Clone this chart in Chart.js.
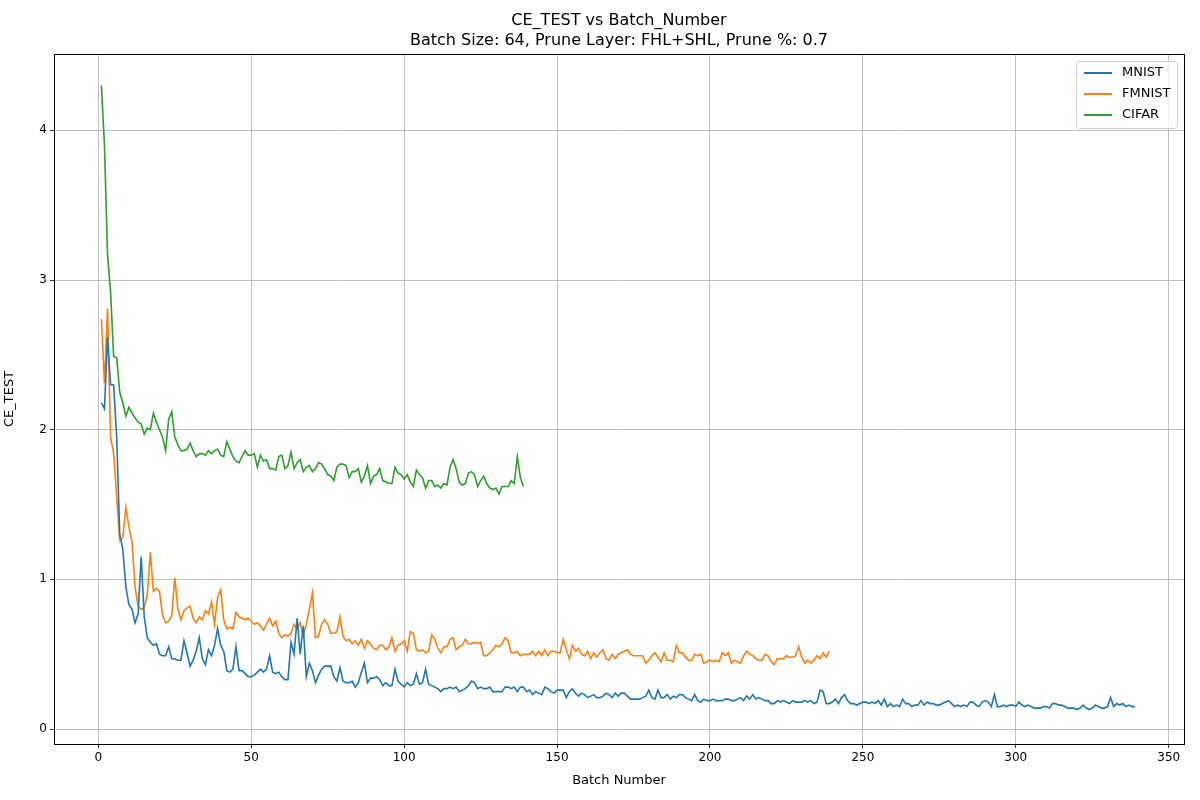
<!DOCTYPE html>
<html>
<head>
<meta charset="utf-8">
<script src="https://cdn.jsdelivr.net/npm/chart.js@4/dist/chart.umd.min.js"></script>
<style>
  body { margin: 0; background: #fff; }
  #wrap { width: 1200px; height: 800px; }
</style>
</head>
<body>
<div id="wrap"><canvas id="chart" width="1200" height="800"></canvas></div>
<script>
// Values, batch 1..N
const mnist = [2.18,2.14,2.62,2.30,2.30,1.95,1.30,1.20,0.95,0.83,0.80,0.71,0.77,1.15,0.75,0.61,0.58,0.56,0.57,0.50,
0.49,0.49,0.55,0.47,0.47,0.46,0.46,0.59,0.51,0.42,0.46,0.52,0.61,0.47,0.43,0.53,0.49,0.56,0.67,0.56,
0.52,0.39,0.38,0.40,0.55,0.39,0.39,0.37,0.35,0.35,0.36,0.38,0.40,0.38,0.40,0.49,0.38,0.37,0.38,0.35,
0.33,0.33,0.58,0.50,0.74,0.50,0.69,0.35,0.44,0.39,0.31,0.36,0.40,0.42,0.42,0.42,0.35,0.32,0.41,0.32,
0.31,0.31,0.32,0.28,0.31,0.38,0.44,0.31,0.34,0.34,0.35,0.33,0.29,0.31,0.29,0.29,0.40,0.32,0.30,0.28,
0.31,0.29,0.30,0.37,0.30,0.31,0.40,0.30,0.29,0.28,0.27,0.25,0.27,0.27,0.28,0.27,0.28,0.25,0.26,0.27,
0.29,0.32,0.31,0.27,0.28,0.27,0.27,0.28,0.25,0.25,0.25,0.25,0.28,0.28,0.27,0.28,0.25,0.28,0.28,0.25,
0.26,0.23,0.25,0.24,0.23,0.28,0.27,0.25,0.24,0.26,0.26,0.26,0.21,0.25,0.27,0.24,0.22,0.24,0.23,0.21,
0.22,0.23,0.21,0.21,0.22,0.24,0.23,0.21,0.24,0.22,0.24,0.24,0.22,0.20,0.20,0.20,0.20,0.21,0.22,0.26,
0.21,0.20,0.26,0.21,0.21,0.23,0.20,0.22,0.21,0.23,0.23,0.21,0.20,0.19,0.23,0.19,0.18,0.20,0.19,0.19,
0.20,0.19,0.19,0.19,0.20,0.20,0.19,0.19,0.20,0.21,0.19,0.22,0.20,0.23,0.20,0.21,0.20,0.19,0.19,0.17,
0.17,0.19,0.18,0.19,0.18,0.17,0.19,0.18,0.18,0.18,0.19,0.18,0.19,0.17,0.18,0.26,0.25,0.17,0.17,0.18,
0.20,0.17,0.21,0.23,0.19,0.17,0.17,0.16,0.17,0.18,0.18,0.17,0.18,0.17,0.19,0.16,0.20,0.15,0.17,0.15,
0.16,0.15,0.20,0.17,0.17,0.15,0.16,0.16,0.19,0.16,0.18,0.17,0.17,0.16,0.16,0.17,0.18,0.19,0.17,0.15,
0.16,0.15,0.16,0.15,0.18,0.18,0.16,0.15,0.18,0.19,0.18,0.15,0.23,0.15,0.15,0.16,0.15,0.16,0.16,0.15,
0.18,0.16,0.15,0.16,0.15,0.14,0.14,0.14,0.15,0.15,0.14,0.17,0.17,0.16,0.16,0.15,0.14,0.14,0.14,0.13,
0.14,0.16,0.14,0.13,0.14,0.16,0.15,0.14,0.14,0.15,0.21,0.15,0.17,0.16,0.17,0.15,0.16,0.15,0.15];

const fmnist = [2.74,2.31,2.81,1.95,1.84,1.55,1.26,1.28,1.48,1.35,1.25,0.95,0.82,0.80,0.81,0.90,1.18,0.92,0.94,0.92,
0.76,0.71,0.72,0.76,1.01,0.80,0.73,0.79,0.81,0.82,0.74,0.71,0.75,0.73,0.79,0.77,0.85,0.70,0.88,0.93,
0.73,0.67,0.68,0.67,0.78,0.75,0.74,0.73,0.74,0.72,0.70,0.71,0.69,0.66,0.70,0.74,0.69,0.72,0.64,0.61,
0.63,0.62,0.64,0.70,0.67,0.71,0.62,0.70,0.80,0.91,0.61,0.62,0.70,0.73,0.70,0.64,0.64,0.65,0.75,0.62,
0.59,0.60,0.57,0.59,0.56,0.60,0.54,0.59,0.57,0.54,0.53,0.56,0.56,0.53,0.55,0.61,0.52,0.56,0.57,0.59,
0.52,0.65,0.64,0.53,0.52,0.53,0.51,0.52,0.63,0.60,0.54,0.51,0.55,0.55,0.60,0.61,0.53,0.55,0.56,0.60,
0.57,0.57,0.58,0.57,0.58,0.49,0.49,0.51,0.53,0.56,0.55,0.57,0.61,0.59,0.51,0.51,0.52,0.49,0.50,0.50,
0.50,0.52,0.49,0.52,0.49,0.53,0.49,0.52,0.52,0.51,0.51,0.60,0.53,0.47,0.56,0.52,0.54,0.50,0.49,0.52,
0.47,0.51,0.48,0.51,0.53,0.47,0.46,0.50,0.47,0.50,0.51,0.52,0.53,0.50,0.49,0.49,0.49,0.49,0.44,0.46,
0.49,0.51,0.48,0.45,0.51,0.46,0.46,0.45,0.56,0.51,0.51,0.48,0.46,0.46,0.50,0.49,0.50,0.44,0.45,0.46,
0.45,0.46,0.45,0.51,0.49,0.51,0.44,0.46,0.45,0.44,0.49,0.52,0.50,0.49,0.47,0.46,0.46,0.50,0.49,0.45,
0.43,0.47,0.47,0.47,0.49,0.48,0.48,0.49,0.55,0.48,0.44,0.46,0.44,0.46,0.49,0.47,0.51,0.48,0.52];

const cifar = [4.30,3.90,3.17,2.92,2.49,2.48,2.25,2.18,2.09,2.15,2.11,2.08,2.05,2.04,1.97,2.01,2.00,2.11,2.05,2.00,
1.95,1.86,2.07,2.12,1.95,1.90,1.86,1.86,1.87,1.91,1.86,1.82,1.84,1.84,1.83,1.86,1.84,1.86,1.87,1.83,
1.82,1.92,1.87,1.82,1.79,1.78,1.82,1.86,1.83,1.83,1.84,1.75,1.83,1.79,1.80,1.74,1.74,1.73,1.82,1.83,
1.74,1.76,1.85,1.74,1.78,1.80,1.72,1.75,1.76,1.72,1.74,1.78,1.77,1.74,1.70,1.69,1.66,1.75,1.77,1.77,
1.76,1.68,1.72,1.72,1.74,1.65,1.69,1.76,1.64,1.69,1.70,1.74,1.66,1.65,1.64,1.64,1.75,1.71,1.70,1.67,
1.70,1.65,1.62,1.73,1.70,1.68,1.61,1.66,1.66,1.62,1.63,1.61,1.64,1.63,1.75,1.80,1.74,1.65,1.63,1.64,
1.71,1.72,1.70,1.62,1.66,1.69,1.64,1.61,1.60,1.61,1.57,1.62,1.62,1.62,1.66,1.64,1.82,1.68,1.62];

const seriesNames = ['MNIST', 'FMNIST', 'CIFAR'];
const seriesColors = ['#1f77b4', '#ff7f0e', '#2ca02c'];
const xTicks = [0, 50, 100, 150, 200, 250, 300, 350];
const yTicks = [0, 1, 2, 3, 4];

const toPoints = arr => arr.map((v, i) => ({ x: i + 1, y: v }));

const font = 'DejaVu Sans';

// title, axes frame and matplotlib-style legend box
const decor = {
    id: 'decor',
    afterDraw(chart) {
        const ctx = chart.ctx;
        const area = chart.chartArea;
        ctx.save();
        ctx.strokeStyle = '#000';
        ctx.lineWidth = 1;
        ctx.strokeRect(Math.round(area.left) + 0.5, Math.round(area.top) + 0.5,
            Math.round(area.right - area.left), Math.round(area.bottom - area.top));

        ctx.fillStyle = '#000';
        ctx.textAlign = 'center';
        ctx.textBaseline = 'middle';
        ctx.font = '16px "' + font + '"';
        const cx = (area.left + area.right) / 2;
        ctx.fillText('CE_TEST vs Batch_Number', cx, 21);
        ctx.fillText('Batch Size: 64, Prune Layer: FHL+SHL, Prune %: 0.7', cx, 41);

        const bx = 1076, by = 61, bw = 101, bh = 67;
        ctx.fillStyle = 'rgba(255,255,255,0.8)';
        ctx.strokeStyle = '#d0d0d0';
        ctx.beginPath();
        ctx.roundRect(bx + 0.5, by + 0.5, bw, bh, 3);
        ctx.fill();
        ctx.stroke();
        ctx.font = '13px "' + font + '"';
        ctx.textAlign = 'left';
        seriesNames.forEach((name, i) => {
            const y = by + 12 + i * 21;
            ctx.strokeStyle = seriesColors[i];
            ctx.lineWidth = 2;
            ctx.beginPath();
            ctx.moveTo(bx + 8, y);
            ctx.lineTo(bx + 36, y);
            ctx.stroke();
            ctx.fillStyle = '#000';
            ctx.fillText(name, bx + 46, y);
        });
        ctx.restore();
    }
};

new Chart(document.getElementById('chart'), {
    type: 'line',
    data: {
        datasets: [
            { label: seriesNames[0], data: toPoints(mnist), borderColor: seriesColors[0] },
            { label: seriesNames[1], data: toPoints(fmnist), borderColor: seriesColors[1] },
            { label: seriesNames[2], data: toPoints(cifar), borderColor: seriesColors[2] }
        ]
    },
    options: {
        responsive: false,
        animation: false,
        layout: { padding: { top: 54, right: 16, left: 0, bottom: 12 } },
        elements: {
            point: { radius: 0 },
            line: { borderWidth: 1.6, tension: 0 }
        },
        plugins: {
            legend: { display: false },
            title: { display: false },
            tooltip: { enabled: false }
        },
        scales: {
            x: {
                type: 'linear',
                min: -14.5, max: 355,
                afterBuildTicks: s => { s.ticks = xTicks.map(v => ({ value: v })); },
                afterFit: s => { s.height = 44; },
                grid: { color: '#b0b0b0', lineWidth: 0.8, tickLength: 4, tickColor: '#000' },
                border: { color: '#000', width: 1 },
                ticks: { color: '#000', font: { family: font, size: 12 } },
                title: { display: true, text: 'Batch Number', color: '#000', font: { family: font, size: 13 }, padding: 0 }
            },
            y: {
                min: -0.1, max: 4.51,
                afterBuildTicks: s => { s.ticks = yTicks.map(v => ({ value: v })); },
                afterFit: s => { s.width = 54; },
                grid: { color: '#b0b0b0', lineWidth: 0.8, tickLength: 4, tickColor: '#000' },
                border: { color: '#000', width: 1 },
                ticks: { color: '#000', font: { family: font, size: 12 } },
                title: { display: true, text: 'CE_TEST', color: '#000', font: { family: font, size: 13 }, padding: 2 }
            }
        }
    },
    plugins: [decor]
});
</script>
</body>
</html>
